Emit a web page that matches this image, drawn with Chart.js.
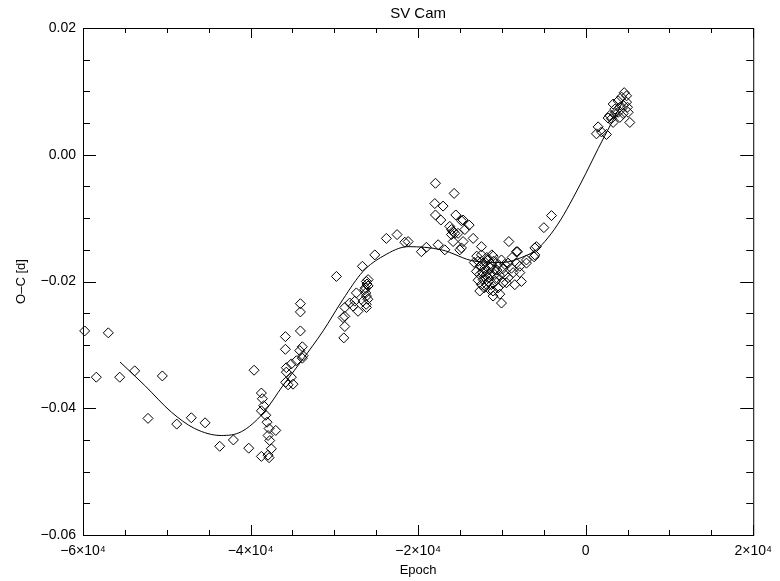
<!DOCTYPE html>
<html lang="en">
<head>
  <meta charset="UTF-8" />
  <title>SV Cam O-C</title>
  <script src="https://cdn.jsdelivr.net/npm/chart.js"></script>
  <style>
    body { margin: 0; background: #fff; }
    .wrap { width: 780px; height: 581px; }
  </style>
</head>
<body>
  <div class="wrap"><canvas id="oc"></canvas></div>

  <script>
    const epochs = [
      -59800, -56980, -58410, -55620, -53830, -50530, -52240, -48810, -47070, -45430, -43680, -42050, -40220, -39580,
      -38710, -38590, -38430, -38710, -38190, -38030, -37790, -36990, -37910, -37710, -37520, -38710, -37910, -37790,
      -34050, -34050, -34050, -35840, -35840, -33820, -34130, -33730, -34530, -35130, -35730, -35730, -35130, -35810, -35520, -34930, -33820,
      -29750, -26650, -25170, -23790, -22510, -21590, -26170, -25970, -26250, -26170, -27370, -27560, -26570, -27760, -26170, -27170,
      -28750, -28750, -28960, -28750, -28870, -28160, -25970, -26370, -26100, -26000, -26200, -26300,
      -21190, -19610, -19010, -17930, -15700, -18010, -17020, -17930, -17290, -15500, -14830, -13910, -16220, -15820, -15230, -16020,
      -14420, -13430, -14630, -15820, -15020, -17610, -16810, -14630, -14830, -16020, -15620,
      -9170, -5880, -6070, -7070, -8140, -8780, -7860, -7670, -8460, -9250, -8860, -9650, -10050, -10250, -11050, -12640, -12840,
      -13040, -12840, -12440, -12440, -11050, -10450, -11440, -11840, -11250, -10450, -10650, -12040, -12240, -11640, -11250, -10850,
      -11840, -12640, -12240, -9650, -9460, -11050, -11440, -12440, -10050, -9250, -8260, -7860, -8660, -9850, -11640, -10850,
      -12000, -11800, -11400, -11000, -12300, -11600, -10800, -12600, -11200, -10600, -11900, -12100, -10300, -9900, -13300, -13000,
      -4990, -4080, -6070, -6150, -8260, -7070,
      1490, 1890, 2480, 1290, 2680, 3080, 3280, 2880, 3480, 3880, 4080, 4480, 5070, 5270, 3280, 3880, 4280, 4600, 4880, 4880, 4480, 4990, 4080, 3480
    ];
    const ocValues = [
      -0.0278, -0.0281, -0.0351, -0.0351, -0.0341, -0.0349, -0.0416, -0.0425, -0.0415, -0.0423, -0.0460, -0.0450, -0.0463, -0.0340,
      -0.0376, -0.0385, -0.0396, -0.0404, -0.0411, -0.0422, -0.0432, -0.0435, -0.0443, -0.0451, -0.0464, -0.0476, -0.0474, -0.0478,
      -0.0235, -0.0248, -0.0278, -0.0287, -0.0307, -0.0303, -0.0309, -0.0317, -0.0325, -0.0330, -0.0336, -0.0343, -0.0351, -0.0359, -0.0363, -0.0362, -0.0321,
      -0.0192, -0.0176, -0.0158, -0.0132, -0.0126, -0.0138, -0.0200, -0.0207, -0.0218, -0.0223, -0.0218, -0.0231, -0.0231, -0.0239, -0.0241, -0.0247,
      -0.0241, -0.0255, -0.0257, -0.0271, -0.0289, -0.0234, -0.0197, -0.0213, -0.0204, -0.0228, -0.0236, -0.0210,
      -0.0137, -0.0153, -0.0146, -0.0045, -0.0061, -0.0077, -0.0081, -0.0095, -0.0103, -0.0095, -0.0104, -0.0111, -0.0113, -0.0121, -0.0124, -0.0126,
      -0.0118, -0.0132, -0.0137, -0.0137, -0.0150, -0.0142, -0.0150, -0.0103, -0.0147, -0.0118, -0.0124,
      -0.0137, -0.0145, -0.0158, -0.0171, -0.0153, -0.0162, -0.0186, -0.0200, -0.0205, -0.0194, -0.0179, -0.0173, -0.0234, -0.0220, -0.0215, -0.0215, -0.0198,
      -0.0184, -0.0168, -0.0158, -0.0145, -0.0160, -0.0173, -0.0189, -0.0205, -0.0205, -0.0210, -0.0194, -0.0179, -0.0171, -0.0166, -0.0173, -0.0181,
      -0.0184, -0.0189, -0.0197, -0.0189, -0.0202, -0.0223, -0.0213, -0.0205, -0.0166, -0.0171, -0.0171, -0.0176, -0.0186, -0.0202, -0.0194, -0.0189,
      -0.0170, -0.0162, -0.0178, -0.0168, -0.0186, -0.0200, -0.0200, -0.0176, -0.0158, -0.0182, -0.0190, -0.0210, -0.0190, -0.0180, -0.0170, -0.0160,
      -0.0115, -0.0096, -0.0147, -0.0161, -0.0153, -0.0166,
      0.0044, 0.0036, 0.0032, 0.0033, 0.0058, 0.0057, 0.0051, 0.0062, 0.0065, 0.0067, 0.0059, 0.0065, 0.0067, 0.0051, 0.0080, 0.0085, 0.0091, 0.0098, 0.0093, 0.0083, 0.0078, 0.0075, 0.0075, 0.0072
    ];

    // fitted curve, sampled off the plot
    const fitEpochs = [-55580, -52630, -49460, -46670, -43490, -41100, -38510, -36120, -33730, -31340, -28960, -26570,
                       -24180, -21190, -17210, -13230, -10000, -7270, -5880, -4500, -3000, -1500, 0, 1500, 3000, 4600];
    const fitOC = [-0.0327, -0.0364, -0.0406, -0.0432, -0.0443, -0.0437, -0.0408, -0.0364, -0.0322, -0.0278, -0.0228, -0.0184,
                   -0.0160, -0.0145, -0.0150, -0.0168, -0.0170, -0.0160, -0.0150, -0.0131, -0.0103, -0.0068, -0.0030, 0.0010, 0.0048, 0.0088];

    const xTicks = [-60000, -40000, -20000, 0, 20000];
    const yTicks = [-0.06, -0.04, -0.02, 0.00, 0.02];

    const font = { family: "'Liberation Sans', Arial, sans-serif", size: 14 };

    // IDL-style box with inward ticks on all four sides
    const framePlugin = {
      id: 'frame',
      afterDatasetsDraw(chart) {
        const { ctx, chartArea: a, scales: { x, y } } = chart;
        ctx.save();
        ctx.strokeStyle = '#000';
        ctx.lineWidth = 1;
        ctx.strokeRect(a.left + 0.5, a.top + 0.5, a.right - a.left, a.bottom - a.top);
        ctx.beginPath();
        for (let v = -60000; v <= 20000; v += 5000) {
          const px = Math.round(x.getPixelForValue(v)) + 0.5;
          const len = v % 20000 === 0 ? 10 : 5;
          ctx.moveTo(px, a.bottom); ctx.lineTo(px, a.bottom - len);
          ctx.moveTo(px, a.top); ctx.lineTo(px, a.top + len);
        }
        for (let i = 0; i <= 16; i++) {
          const v = -0.06 + i * 0.005;
          const py = Math.round(y.getPixelForValue(v)) + 0.5;
          const len = i % 4 === 0 ? 13 : 7;
          ctx.moveTo(a.left, py); ctx.lineTo(a.left + len, py);
          ctx.moveTo(a.right, py); ctx.lineTo(a.right - len, py);
        }
        ctx.stroke();
        ctx.restore();
      }
    };

    new Chart(document.getElementById('oc'), {
      type: 'scatter',
      data: {
        datasets: [
          {
            label: 'O-C',
            data: epochs.map((e, i) => ({ x: e, y: ocValues[i] })),
            pointStyle: 'rectRot',
            pointRadius: 5,
            pointBorderWidth: 1,
            pointBorderColor: '#000',
            pointBackgroundColor: 'rgba(0,0,0,0)',
            clip: false
          },
          {
            label: 'fit',
            data: fitEpochs.map((e, i) => ({ x: e, y: fitOC[i] })),
            showLine: true,
            borderColor: '#000',
            borderWidth: 1,
            pointRadius: 0,
            cubicInterpolationMode: 'monotone'
          }
        ]
      },
      options: {
        responsive: true,
        maintainAspectRatio: false,
        animation: false,
        layout: { padding: { top: 0, right: 23, left: 0, bottom: 0 } },
        plugins: {
          legend: { display: false },
          tooltip: { enabled: false },
          title: {
            display: true,
            text: 'SV Cam',
            fullSize: false,
            color: '#000',
            font: { family: font.family, size: 15, weight: 'normal' },
            padding: { top: 5, bottom: 5 }
          }
        },
        scales: {
          x: {
            type: 'linear',
            min: -60000,
            max: 20000,
            afterBuildTicks: s => { s.ticks = xTicks.map(v => ({ value: v })); },
            afterFit: s => { s.height = 46; },
            grid: { display: false, drawTicks: false },
            border: { display: false },
            ticks: {
              color: '#000',
              font: font,
              padding: 8,
              maxRotation: 0,
              callback: v => v === 0 ? '0' : (v < 0 ? '−' : '') + Math.abs(v / 10000) + '×10⁴'
            },
            title: {
              display: true,
              text: 'Epoch',
              color: '#000',
              font: { family: font.family, size: 13 },
              padding: { top: 0, bottom: 3 }
            }
          },
          y: {
            min: -0.06,
            max: 0.02,
            afterBuildTicks: s => { s.ticks = yTicks.map(v => ({ value: v })); },
            afterFit: s => { s.width = 83; },
            grid: { display: false, drawTicks: false },
            border: { display: false },
            ticks: {
              color: '#000',
              font: font,
              padding: 7,
              callback: v => Math.abs(v) < 1e-9 ? '0.00' : (v < 0 ? '−' : '') + Math.abs(v).toFixed(2)
            },
            title: {
              display: true,
              text: 'O–C [d]',
              color: '#000',
              font: { family: font.family, size: 13 },
              padding: { top: 14, bottom: 0 }
            }
          }
        }
      },
      plugins: [framePlugin]
    });
  </script>
</body>
</html>
